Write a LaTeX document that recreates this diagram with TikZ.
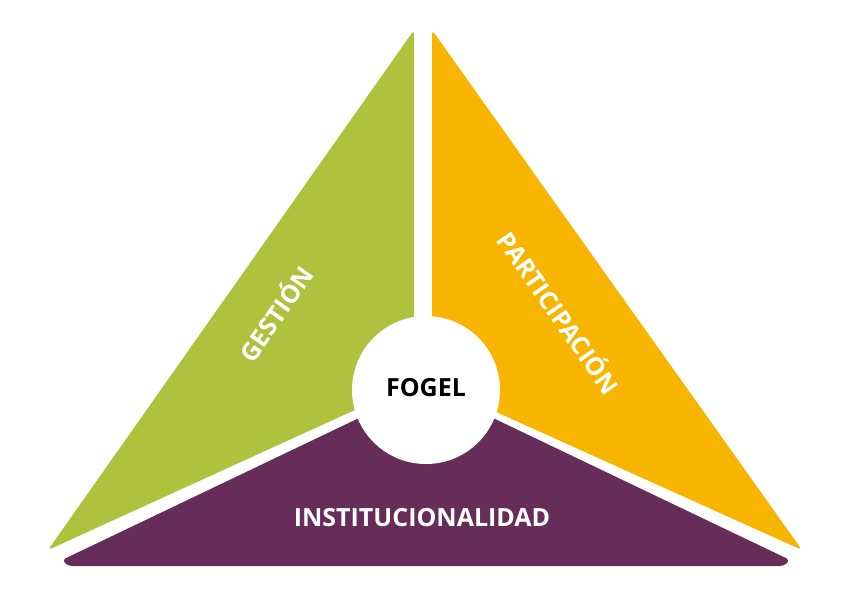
\documentclass[tikz,border=0pt]{standalone}
\usepackage{fontspec}
\setmainfont{Open Sans}
\definecolor{cgreen}{HTML}{AFC23E}
\definecolor{corange}{HTML}{F8B500}
\definecolor{cpurple}{HTML}{662D59}
\begin{document}
\begin{tikzpicture}[x=1pt,y=-1pt,
  lbl/.style={font=\bfseries\fontsize{25}{27}\selectfont,text=white,inner sep=0pt}]
\useasboundingbox[fill=white] (0,0) rectangle (842,595);
\fill[cgreen,rounded corners=4pt] (414,30) -- (414,383) -- (48,550) -- cycle;
\fill[corange,rounded corners=4pt] (432,30) -- (432,383) -- (802,550) -- cycle;
\fill[cpurple,rounded corners=4pt] (62,560) -- (426,386) -- (790,560) -- (784,566) -- (68,566) -- cycle;
\node[circle,fill=white,minimum size=148pt] (c) at (426,390) {};
\node[font=\bfseries\fontsize{25}{27}\selectfont] (f) at (426,388) {FOGEL};
\node[lbl,rotate=55] (g) at (275,313) {GESTIÓN};
\node[lbl,rotate=-55] (p) at (560,312) {PARTICIPACIÓN};
\node[lbl] (i) at (422,518) {INSTITUCIONALIDAD};
\end{tikzpicture}
\end{document}
